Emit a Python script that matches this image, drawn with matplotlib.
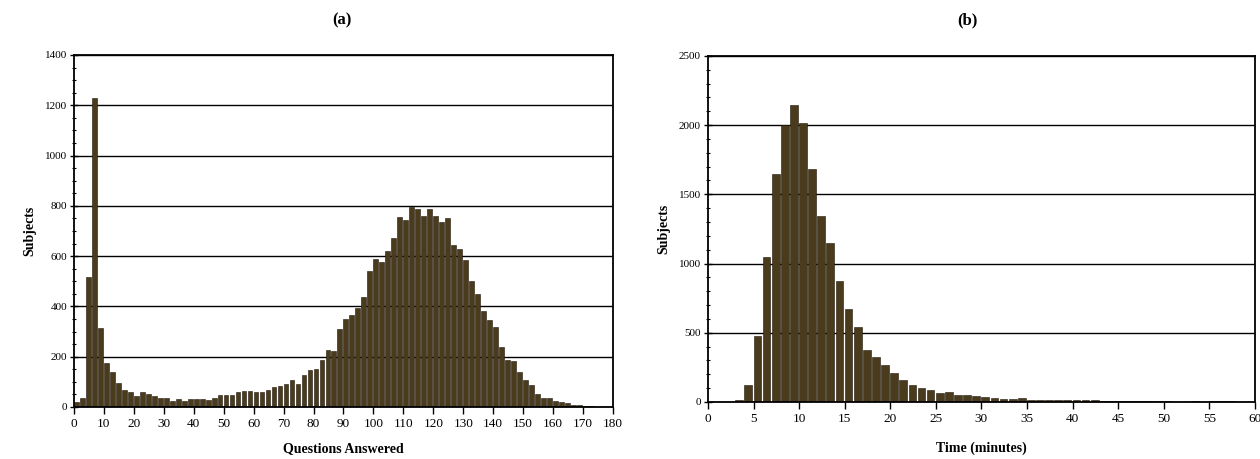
import numpy as np
import matplotlib.pyplot as plt
from matplotlib.ticker import MultipleLocator

# (a) questions answered, bins of 2 from 0
preguntas_inicio = np.arange(0, 176, 2)
preguntas_sujetos = [
    20, 36, 516, 1227, 315, 176, 140, 96, 67, 61,
    45, 60, 51, 43, 36, 37, 25, 32, 24, 31,
    31, 33, 28, 35, 47, 47, 47, 60, 65, 65,
    61, 61, 69, 80, 83, 93, 107, 93, 128, 149,
    153, 187, 227, 224, 311, 349, 367, 393, 436, 540,
    587, 577, 619, 673, 756, 743, 795, 788, 761, 788,
    761, 735, 752, 644, 629, 584, 500, 448, 380, 347,
    319, 237, 187, 181, 141, 107, 87, 51, 35, 35,
    24, 20, 17, 8, 7, 5, 3, 1,
]

# (b) time in minutes, bins of 1 from 0
minutos_inicio = np.arange(0, 60, 1)
minutos_sujetos = [
    0, 0, 0, 12, 120, 476, 1048, 1647, 2002, 2147,
    2014, 1683, 1341, 1149, 877, 671, 543, 377, 322, 264,
    209, 159, 123, 103, 87, 68, 70, 49, 49, 41,
    34, 32, 24, 24, 27, 17, 12, 15, 15, 12,
    12, 17, 12, 10, 7, 5, 5, 4, 5, 5,
    4, 3, 3, 4, 3, 5, 8, 6, 3, 2,
]

color_barra = '#4a3b1c'
borde_barra = '#1e1608'
fuente = 'Liberation Serif'

fig = plt.figure(figsize=(12.6, 4.59), dpi=100)
ax1 = fig.add_axes([0.0587, 0.1133, 0.4278, 0.767])
ax2 = fig.add_axes([0.5619, 0.1242, 0.434, 0.754])

ax1.bar(preguntas_inicio, preguntas_sujetos, width=1.6, align='edge',
        color=color_barra, edgecolor=borde_barra, linewidth=0.4, zorder=2)
ax2.bar(minutos_inicio, minutos_sujetos, width=0.85, align='edge',
        color=color_barra, edgecolor=borde_barra, linewidth=0.4, zorder=2)

ax1.set_xlim(0, 180)
ax1.set_ylim(0, 1400)
ax1.xaxis.set_major_locator(MultipleLocator(10))
ax1.yaxis.set_major_locator(MultipleLocator(200))
ax1.yaxis.set_minor_locator(MultipleLocator(50))

ax2.set_xlim(0, 60)
ax2.set_ylim(0, 2500)
ax2.xaxis.set_major_locator(MultipleLocator(5))
ax2.yaxis.set_major_locator(MultipleLocator(500))
ax2.yaxis.set_minor_locator(MultipleLocator(100))

for ax in (ax1, ax2):
    ax.set_axisbelow(True)
    ax.grid(axis='y', color='black', linewidth=1.0, zorder=1)
    for s in ax.spines.values():
        s.set_linewidth(1.3)
        s.set_color('black')
    ax.tick_params(axis='x', direction='out', length=5, width=1, labelsize=9.5, pad=3)
    ax.tick_params(axis='y', which='major', direction='inout', length=6, width=1, labelsize=8, pad=2)
    ax.tick_params(axis='y', which='minor', direction='inout', length=3, width=0.8)
    for lbl in ax.get_xticklabels() + ax.get_yticklabels():
        lbl.set_fontfamily(fuente)
    ax.set_ylabel('Subjects', fontfamily=fuente, fontsize=10, fontweight='bold', labelpad=6)

ax1.set_xlabel('Questions Answered', fontfamily=fuente, fontsize=10, fontweight='bold', labelpad=9)
ax2.set_xlabel('Time (minutes)', fontfamily=fuente, fontsize=10, fontweight='bold', labelpad=12)

fig.text(0.2715, 0.955, '(a)', ha='center', va='center', fontfamily=fuente, fontsize=12, fontweight='bold')
fig.text(0.7675, 0.955, '(b)', ha='center', va='center', fontfamily=fuente, fontsize=12, fontweight='bold')

fig.savefig('out.png', dpi=100)
